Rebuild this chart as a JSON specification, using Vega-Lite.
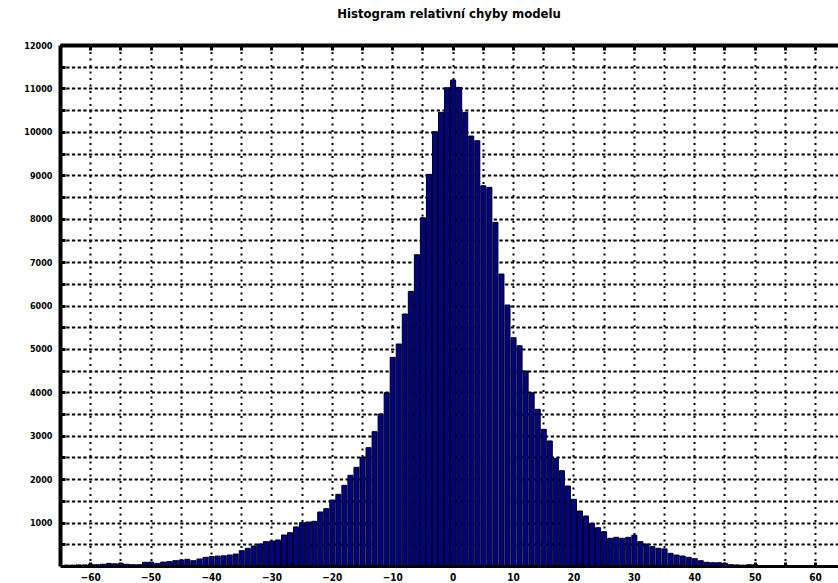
{
  "$schema": "https://vega.github.io/schema/vega-lite/v6.json",
  "width": 778,
  "height": 521,
  "autosize": {"type": "none"},
  "padding": {"left": 60, "top": 45, "right": 0, "bottom": 17},
  "background": "white",
  "title": {
    "text": "Histogram relativní chyby modelu",
    "fontSize": 13,
    "fontWeight": "bold",
    "font": "Liberation Sans Narrow, DejaVu Sans Condensed, sans-serif",
    "color": "black",
    "anchor": "middle",
    "offset": 20
  },
  "config": {
    "view": {"stroke": null},
    "axis": {
      "domainColor": "black",
      "tickColor": "black",
      "gridColor": "black",
      "gridOpacity": 1,
      "labelColor": "black",
      "labelFont": "Liberation Sans Narrow, DejaVu Sans Condensed, sans-serif",
      "labelFontWeight": "bold",
      "labelFontSize": 10,
      "labelOverlap": false,
      "labelBound": false,
      "title": null
    }
  },
  "data": {
    "values": [
      {"bin_start": -64.5, "bin_end": -63.5, "count": 20},
      {"bin_start": -63.5, "bin_end": -62.5, "count": 20},
      {"bin_start": -62.5, "bin_end": -61.5, "count": 25},
      {"bin_start": -61.5, "bin_end": -60.5, "count": 25},
      {"bin_start": -60.5, "bin_end": -59.5, "count": 40},
      {"bin_start": -59.5, "bin_end": -58.5, "count": 30},
      {"bin_start": -58.5, "bin_end": -57.5, "count": 40},
      {"bin_start": -57.5, "bin_end": -56.5, "count": 60},
      {"bin_start": -56.5, "bin_end": -55.5, "count": 50},
      {"bin_start": -55.5, "bin_end": -54.5, "count": 60},
      {"bin_start": -54.5, "bin_end": -53.5, "count": 40},
      {"bin_start": -53.5, "bin_end": -52.5, "count": 30},
      {"bin_start": -52.5, "bin_end": -51.5, "count": 30},
      {"bin_start": -51.5, "bin_end": -50.5, "count": 85},
      {"bin_start": -50.5, "bin_end": -49.5, "count": 90},
      {"bin_start": -49.5, "bin_end": -48.5, "count": 60},
      {"bin_start": -48.5, "bin_end": -47.5, "count": 90},
      {"bin_start": -47.5, "bin_end": -46.5, "count": 100},
      {"bin_start": -46.5, "bin_end": -45.5, "count": 122},
      {"bin_start": -45.5, "bin_end": -44.5, "count": 138},
      {"bin_start": -44.5, "bin_end": -43.5, "count": 154},
      {"bin_start": -43.5, "bin_end": -42.5, "count": 122},
      {"bin_start": -42.5, "bin_end": -41.5, "count": 161},
      {"bin_start": -41.5, "bin_end": -40.5, "count": 200},
      {"bin_start": -40.5, "bin_end": -39.5, "count": 215},
      {"bin_start": -39.5, "bin_end": -38.5, "count": 230},
      {"bin_start": -38.5, "bin_end": -37.5, "count": 235},
      {"bin_start": -37.5, "bin_end": -36.5, "count": 253},
      {"bin_start": -36.5, "bin_end": -35.5, "count": 276},
      {"bin_start": -35.5, "bin_end": -34.5, "count": 353},
      {"bin_start": -34.5, "bin_end": -33.5, "count": 407},
      {"bin_start": -33.5, "bin_end": -32.5, "count": 461},
      {"bin_start": -32.5, "bin_end": -31.5, "count": 507},
      {"bin_start": -31.5, "bin_end": -30.5, "count": 560},
      {"bin_start": -30.5, "bin_end": -29.5, "count": 576},
      {"bin_start": -29.5, "bin_end": -28.5, "count": 599},
      {"bin_start": -28.5, "bin_end": -27.5, "count": 714},
      {"bin_start": -27.5, "bin_end": -26.5, "count": 767},
      {"bin_start": -26.5, "bin_end": -25.5, "count": 900},
      {"bin_start": -25.5, "bin_end": -24.5, "count": 997},
      {"bin_start": -24.5, "bin_end": -23.5, "count": 1013},
      {"bin_start": -23.5, "bin_end": -22.5, "count": 1029},
      {"bin_start": -22.5, "bin_end": -21.5, "count": 1244},
      {"bin_start": -21.5, "bin_end": -20.5, "count": 1320},
      {"bin_start": -20.5, "bin_end": -19.5, "count": 1520},
      {"bin_start": -19.5, "bin_end": -18.5, "count": 1651},
      {"bin_start": -18.5, "bin_end": -17.5, "count": 1858},
      {"bin_start": -17.5, "bin_end": -16.5, "count": 2089},
      {"bin_start": -16.5, "bin_end": -15.5, "count": 2273},
      {"bin_start": -15.5, "bin_end": -14.5, "count": 2503},
      {"bin_start": -14.5, "bin_end": -13.5, "count": 2725},
      {"bin_start": -13.5, "bin_end": -12.5, "count": 3093},
      {"bin_start": -12.5, "bin_end": -11.5, "count": 3501},
      {"bin_start": -11.5, "bin_end": -10.5, "count": 3991},
      {"bin_start": -10.5, "bin_end": -9.5, "count": 4806},
      {"bin_start": -9.5, "bin_end": -8.5, "count": 5113},
      {"bin_start": -8.5, "bin_end": -7.5, "count": 5804},
      {"bin_start": -7.5, "bin_end": -6.5, "count": 6326},
      {"bin_start": -6.5, "bin_end": -5.5, "count": 7169},
      {"bin_start": -5.5, "bin_end": -4.5, "count": 8021},
      {"bin_start": -4.5, "bin_end": -3.5, "count": 9021},
      {"bin_start": -3.5, "bin_end": -2.5, "count": 10002},
      {"bin_start": -2.5, "bin_end": -1.5, "count": 10449},
      {"bin_start": -1.5, "bin_end": -0.5, "count": 11015},
      {"bin_start": -0.5, "bin_end": 0.5, "count": 11193},
      {"bin_start": 0.5, "bin_end": 1.5, "count": 11024},
      {"bin_start": 1.5, "bin_end": 2.5, "count": 10449},
      {"bin_start": 2.5, "bin_end": 3.5, "count": 9903},
      {"bin_start": 3.5, "bin_end": 4.5, "count": 9795},
      {"bin_start": 4.5, "bin_end": 5.5, "count": 8758},
      {"bin_start": 5.5, "bin_end": 6.5, "count": 8721},
      {"bin_start": 6.5, "bin_end": 7.5, "count": 7915},
      {"bin_start": 7.5, "bin_end": 8.5, "count": 6725},
      {"bin_start": 8.5, "bin_end": 9.5, "count": 6011},
      {"bin_start": 9.5, "bin_end": 10.5, "count": 5258},
      {"bin_start": 10.5, "bin_end": 11.5, "count": 5073},
      {"bin_start": 11.5, "bin_end": 12.5, "count": 4491},
      {"bin_start": 12.5, "bin_end": 13.5, "count": 3991},
      {"bin_start": 13.5, "bin_end": 14.5, "count": 3609},
      {"bin_start": 14.5, "bin_end": 15.5, "count": 3148},
      {"bin_start": 15.5, "bin_end": 16.5, "count": 2880},
      {"bin_start": 16.5, "bin_end": 17.5, "count": 2480},
      {"bin_start": 17.5, "bin_end": 18.5, "count": 2195},
      {"bin_start": 18.5, "bin_end": 19.5, "count": 1842},
      {"bin_start": 19.5, "bin_end": 20.5, "count": 1536},
      {"bin_start": 20.5, "bin_end": 21.5, "count": 1267},
      {"bin_start": 21.5, "bin_end": 22.5, "count": 1152},
      {"bin_start": 22.5, "bin_end": 23.5, "count": 983},
      {"bin_start": 23.5, "bin_end": 24.5, "count": 882},
      {"bin_start": 24.5, "bin_end": 25.5, "count": 790},
      {"bin_start": 25.5, "bin_end": 26.5, "count": 638},
      {"bin_start": 26.5, "bin_end": 27.5, "count": 661},
      {"bin_start": 27.5, "bin_end": 28.5, "count": 638},
      {"bin_start": 28.5, "bin_end": 29.5, "count": 661},
      {"bin_start": 29.5, "bin_end": 30.5, "count": 710},
      {"bin_start": 30.5, "bin_end": 31.5, "count": 560},
      {"bin_start": 31.5, "bin_end": 32.5, "count": 507},
      {"bin_start": 32.5, "bin_end": 33.5, "count": 445},
      {"bin_start": 33.5, "bin_end": 34.5, "count": 408},
      {"bin_start": 34.5, "bin_end": 35.5, "count": 395},
      {"bin_start": 35.5, "bin_end": 36.5, "count": 292},
      {"bin_start": 36.5, "bin_end": 37.5, "count": 253},
      {"bin_start": 37.5, "bin_end": 38.5, "count": 230},
      {"bin_start": 38.5, "bin_end": 39.5, "count": 200},
      {"bin_start": 39.5, "bin_end": 40.5, "count": 168},
      {"bin_start": 40.5, "bin_end": 41.5, "count": 122},
      {"bin_start": 41.5, "bin_end": 42.5, "count": 85},
      {"bin_start": 42.5, "bin_end": 43.5, "count": 76},
      {"bin_start": 43.5, "bin_end": 44.5, "count": 76},
      {"bin_start": 44.5, "bin_end": 45.5, "count": 62},
      {"bin_start": 45.5, "bin_end": 46.5, "count": 30},
      {"bin_start": 46.5, "bin_end": 47.5, "count": 25},
      {"bin_start": 47.5, "bin_end": 48.5, "count": 20},
      {"bin_start": 48.5, "bin_end": 49.5, "count": 30},
      {"bin_start": 49.5, "bin_end": 50.5, "count": 30},
      {"bin_start": 50.5, "bin_end": 51.5, "count": 8}
    ]
  },
  "layer": [
    {
      "mark": {"type": "bar", "color": "#00008B", "stroke": "black", "strokeWidth": 1},
      "encoding": {
        "x": {
          "field": "bin_start",
          "type": "quantitative",
          "bin": {"binned": true, "step": 1},
          "scale": {"domain": [-65, 63.8], "nice": false, "zero": false},
          "axis": {
            "orient": "bottom",
            "values": [-60, -55, -50, -45, -40, -35, -30, -25, -20, -15, -10, -5, 0, 5, 10, 15, 20, 25, 30, 35, 40, 45, 50, 55, 60],
            "labelExpr": "datum.value % 10 == 0 ? datum.label : ''",
            "domain": true,
            "domainWidth": 3,
            "tickSize": -4,
            "tickWidth": 3,
            "labelPadding": 10,
            "grid": true,
            "gridDash": [2, 4.5],
            "gridWidth": 2
          }
        },
        "x2": {"field": "bin_end"},
        "y": {
          "field": "count",
          "type": "quantitative",
          "scale": {"domain": [0, 12000], "nice": false},
          "axis": {
            "orient": "left",
            "values": [500, 1000, 1500, 2000, 2500, 3000, 3500, 4000, 4500, 5000, 5500, 6000, 6500, 7000, 7500, 8000, 8500, 9000, 9500, 10000, 10500, 11000, 11500, 12000],
            "format": "d",
            "labelExpr": "datum.value % 1000 == 0 ? datum.label : ''",
            "domain": true,
            "domainWidth": 4,
            "tickSize": -5,
            "tickWidth": 3,
            "labelPadding": 13,
            "grid": true,
            "gridDash": [3.3, 2.4],
            "gridWidth": 2,
            "labelFontSize": 9
          }
        }
      }
    },
    {
      "mark": {"type": "rule", "opacity": 0},
      "encoding": {
        "x": {
          "field": "bin_start",
          "type": "quantitative",
          "axis": {
            "orient": "top",
            "values": [-60, -55, -50, -45, -40, -35, -30, -25, -20, -15, -10, -5, 0, 5, 10, 15, 20, 25, 30, 35, 40, 45, 50, 55, 60],
            "labels": false,
            "grid": false,
            "domainWidth": 4,
            "tickSize": -5,
            "tickWidth": 3
          }
        }
      }
    }
  ],
  "resolve": {"axis": {"x": "independent"}}
}
